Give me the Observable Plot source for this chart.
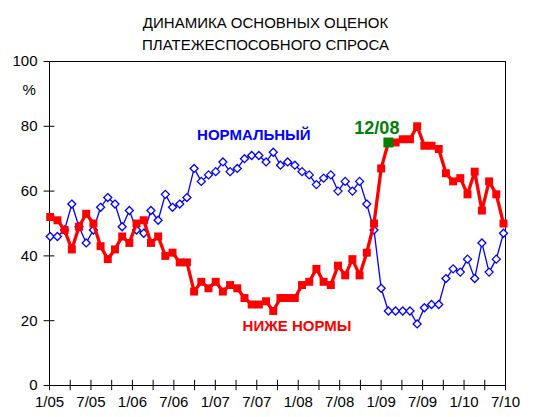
<!DOCTYPE html>
<html>
<head>
<meta charset="utf-8">
<script src="https://cdn.jsdelivr.net/npm/d3@7"></script>
<script src="https://cdn.jsdelivr.net/npm/@observablehq/plot@0.6"></script>
<style>
  body { margin: 0; background: white; font-family: "Liberation Sans", Arial, sans-serif; }
  #title { box-sizing: border-box; width: 543px; height: 56px; padding: 12px 12px 0 0; text-align: center;
           font-size: 15px; line-height: 22px; color: #000; }
  #chart svg { display: block; margin-top: -6px; }
</style>
</head>
<body>
<div id="title">ДИНАМИКА ОСНОВНЫХ ОЦЕНОК<br>ПЛАТЕЖЕСПОСОБНОГО СПРОСА</div>
<div id="chart"></div>
<script>
// Monthly surveys, 1/05 .. 4/10 (64 months)
const months = d3.timeMonths(new Date(2005, 0, 1), new Date(2010, 4, 1));

// "НОРМАЛЬНЫЙ" (normal), %
const normal = [
  46, 46, 48, 56, 49, 44, 48, 55, 58, 56, 49, 54, 48, 47, 54, 51,
  59, 55, 56, 58, 67, 63, 65, 66, 69, 66, 67, 70, 71, 71, 69, 72,
  68, 69, 68, 66, 65, 62, 64, 65, 60, 63, 60, 63, 56, 48,
  30, 23, 23, 23, 23, 19, 24, 25, 25, 33, 36, 35, 39, 33, 44, 35, 39, 47
];

// "НИЖЕ НОРМЫ" (below normal), %
const below = [
  52, 51, 48, 42, 49, 53, 50, 43, 39, 42, 46, 44, 50, 51, 44, 46,
  40, 41, 38, 38, 29, 32, 30, 32, 29, 31, 30, 27, 25, 25, 26, 23,
  27, 27, 27, 31, 32, 36, 32, 31, 37, 34, 39, 34, 41, 50,
  67, 75, 75, 76, 76, 80, 74, 74, 73, 65.5, 63, 64, 59, 66, 54, 63, 59, 50
];

const highlightLabel = "12/08";
const highlightIndex = 47; // 12/08

const xTickLabels = ["1/05", "7/05", "1/06", "7/06", "1/07", "7/07", "1/08", "7/08", "1/09", "7/09", "1/10", "7/10"];
const yTicks = [0, 20, 40, 60, 80, 100];

const rows = months.map((m, i) => ({i, month: m, normal: normal[i], below: below[i]}));

// category-style axis: 22 quarter ticks spread across the frame
const xMin = -0.1, xMax = 63.28;
const xTickPos = d3.range(23).map(k => xMin + k * (xMax - xMin) / 22);
const xLabelRows = xTickLabels.map((label, k) => ({x: xTickPos[2 * k], label}));

const blue = "#0000ff", red = "#ff0000", green = "#008000";

const chart = Plot.plot({
  width: 543,
  height: 367,
  marginLeft: 49,
  marginRight: 38,
  marginTop: 11,
  marginBottom: 32,
  style: {background: "transparent", fontFamily: "Liberation Sans, Arial, sans-serif", fontSize: "15px", overflow: "visible"},
  x: {domain: [xMin, xMax], axis: null},
  y: {domain: [0, 100], axis: null},
  marks: [
    Plot.frame({stroke: "black", strokeWidth: 1}),
    Plot.ruleX(xTickPos, {x: d => d, y1: -1.6, y2: 1.6, stroke: "black", strokeWidth: 1}),
    Plot.ruleY(yTicks, {y: d => d, x1: xMin - 0.75, x2: xMin + 0.75, stroke: "black", strokeWidth: 1}),
    Plot.text(yTicks, {x: xMin, y: d => d, text: d => String(d), textAnchor: "end", dx: -12, fill: "black", fontSize: 15}),
    Plot.text(xLabelRows, {x: "x", y: 0, text: "label", dy: 17, fill: "black", fontSize: 15}),
    Plot.text(["%"], {frameAnchor: "top-left", dx: -27, dy: 23, fill: "black", fontSize: 15}),
    // normal series
    Plot.line(rows, {x: "i", y: "normal", stroke: blue, strokeWidth: 1.3}),
    Plot.dot(rows, {x: "i", y: "normal", symbol: "diamond2", r: 3.6, stroke: blue, strokeWidth: 1.3, fill: "white"}),
    // below-normal series
    Plot.line(rows, {x: "i", y: "below", stroke: red, strokeWidth: 3.3}),
    Plot.dot(rows, {x: "i", y: "below", symbol: "square", r: 4.5, fill: red, stroke: "none"}),
    Plot.dot([rows[highlightIndex]], {x: "i", y: "below", symbol: "square", r: 5.6, fill: green, stroke: "none"}),
    // labels
    Plot.text(["НОРМАЛЬНЫЙ"], {x: 28.3, y: 77.2, text: d => d, fill: blue, fontWeight: "bold", fontSize: 15}),
    Plot.text(["НИЖЕ НОРМЫ"], {x: 34.3, y: 18.2, text: d => d, fill: red, fontWeight: "bold", fontSize: 15}),
    Plot.text([highlightLabel], {x: 45.4, y: 79.5, text: d => d, fill: green, fontWeight: "bold", fontSize: 18})
  ]
});
document.getElementById("chart").appendChild(chart);
</script>
</body>
</html>
